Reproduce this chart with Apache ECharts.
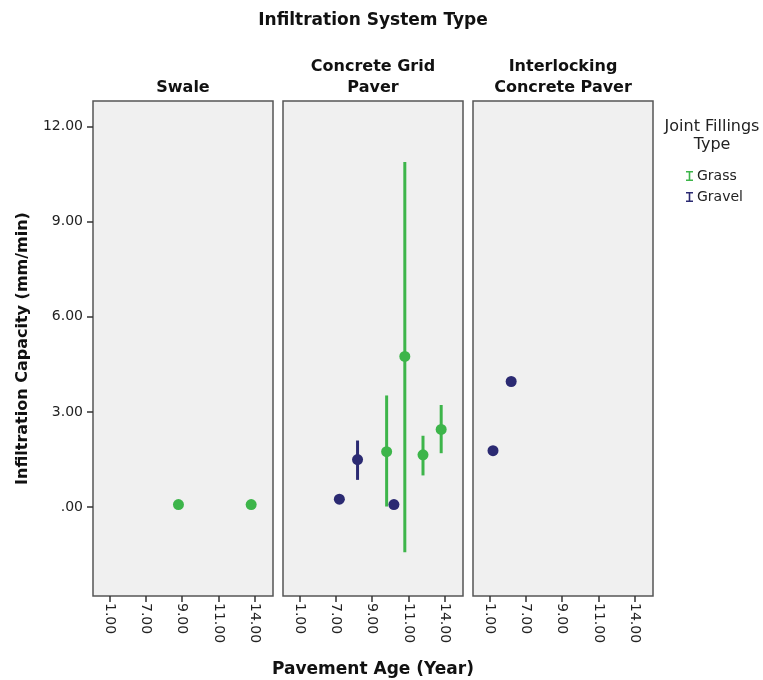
<!DOCTYPE html>
<html>
<head>
<meta charset="utf-8">
<script src="https://cdn.jsdelivr.net/npm/echarts@6/dist/echarts.min.js"></script>
<style>html,body{margin:0;padding:0;background:#fff}#c{width:763px;height:680px}</style>
</head>
<body>
<div id="c"></div>
<script>
// ---- data ----
const categories = ['1.00', '5.00', '7.00', '8.00', '9.00', '10.00', '11.00', '12.00', '14.00'];
const shownTickIdx = [0, 2, 4, 6, 8];
const yTicks = [0, 3, 6, 9, 12];
const panelTitles = ['Swale', 'Concrete Grid\nPaver', 'Interlocking\nConcrete Paver'];
const fillTypes = ['Grass', 'Gravel'];
// [age, mean, low, high]
const grassSwale = [['9.00', 0.08, null, null], ['14.00', 0.08, null, null]];
const gravelSwale = [];
const grassGrid = [['10.00', 1.75, 0.02, 3.52], ['11.00', 4.75, -1.42, 10.88], ['12.00', 1.65, 1.0, 2.25], ['14.00', 2.45, 1.7, 3.22]];
const gravelGrid = [['7.00', 0.25, null, null], ['8.00', 1.5, 0.86, 2.1], ['10.00', 0.08, null, null]];
const grassInter = [];
const gravelInter = [['1.00', 1.78, null, null], ['5.00', 3.96, null, null]];

const panelData = [[grassSwale, gravelSwale], [grassGrid, gravelGrid], [grassInter, gravelInter]];

// ---- style ----
const colors = ['#3db54a', '#2b2a72'];
const dodge = [-0.2, 0.2];
const FONT = 'DejaVu Sans';
const gridLefts = [93, 283, 473];
const gridW = 180, gridTop = 101, gridH = 495;

const chart = echarts.init(document.getElementById('c'), null, {renderer: 'canvas'});

const grids = [], xAxes = [], yAxes = [], series = [];
gridLefts.forEach((l, i) => {
  grids.push({left: l, top: gridTop, width: gridW, height: gridH, show: true,
    backgroundColor: '#f0f0f0', borderColor: '#555', borderWidth: 1.5,
    containLabel: false, outerBoundsMode: 'none'});
  xAxes.push({
    type: 'value', gridIndex: i, min: -0.9, max: 9.0, position: 'bottom',
    axisLine: {show: false, onZero: false},
    splitLine: {show: false},
    axisTick: {show: true, customValues: shownTickIdx, length: 6, lineStyle: {color: '#333', width: 1.5}},
    axisLabel: {customValues: shownTickIdx, rotate: -90, margin: 7, color: '#222',
      fontFamily: FONT, fontSize: 14, formatter: v => categories[Math.round(v)]},
    name: i === 1 ? 'Pavement Age (Year)' : '',
    nameLocation: 'middle', nameGap: 65,
    nameTextStyle: {fontFamily: FONT, fontWeight: 'bold', fontSize: 17, color: '#111'}
  });
  yAxes.push({
    type: 'value', gridIndex: i, min: -2.8, max: 12.8, position: 'left',
    axisLine: {show: false, onZero: false},
    splitLine: {show: false},
    axisTick: {show: i === 0, customValues: yTicks, length: 6, lineStyle: {color: '#333', width: 1.5}},
    axisLabel: {show: i === 0, customValues: yTicks, margin: 10, color: '#222',
      fontFamily: FONT, fontSize: 14, formatter: v => v === 0 ? '.00' : v.toFixed(2)},
    name: i === 0 ? 'Infiltration Capacity (mm/min)' : '',
    nameLocation: 'middle', nameGap: 62,
    nameTextStyle: {fontFamily: FONT, fontWeight: 'bold', fontSize: 16, color: '#111'}
  });

  panelData[i].forEach((arr, s) => {
    const pts = arr.map(d => [categories.indexOf(d[0]) + dodge[s], d[1], d[2], d[3]]);
    const bars = pts.filter(p => p[2] !== null);
    series.push({
      type: 'custom', name: fillTypes[s] + '_err', xAxisIndex: i, yAxisIndex: i,
      data: bars, z: 2,
      renderItem: (params, api) => {
        const a = api.coord([api.value(0), api.value(2)]);
        const b = api.coord([api.value(0), api.value(3)]);
        return {type: 'line', shape: {x1: a[0], y1: a[1], x2: b[0], y2: b[1]},
          style: {stroke: colors[s], lineWidth: 3}};
      },
      encode: {x: 0, y: [2, 3]}
    });
    series.push({
      type: 'scatter', name: fillTypes[s], xAxisIndex: i, yAxisIndex: i,
      data: pts.map(p => [p[0], p[1]]), symbolSize: 11, z: 3,
      itemStyle: {color: colors[s], opacity: 1}
    });
  });
});

const iBeam = 'path://M0,0H7V1.6H4.3V8.4H7V10H0V8.4H2.7V1.6H0Z';

const graphics = [
  {type: 'text', x: 373, y: 12, style: {text: 'Infiltration System Type', align: 'center',
    font: 'bold 17px "' + FONT + '"', fill: '#111'}},
  {type: 'text', x: 712, y: 118, style: {text: 'Joint Fillings\nType', align: 'center',
    font: '16px "' + FONT + '"', fill: '#222', lineHeight: 18}}
];
panelTitles.forEach((t, i) => {
  graphics.push({type: 'text', x: gridLefts[i] + gridW / 2, y: 98, style: {text: t, align: 'center',
    verticalAlign: 'bottom', font: 'bold 16px "' + FONT + '"', fill: '#111', lineHeight: 21}});
});

chart.setOption({
  animation: false,
  backgroundColor: '#fff',
  grid: grids, xAxis: xAxes, yAxis: yAxes, series: series,
  legend: {
    data: fillTypes.map((n, k) => ({name: n, icon: iBeam, itemStyle: {color: colors[k]}})),
    orient: 'vertical', left: 681, top: 164, itemWidth: 7, itemHeight: 11, itemGap: 7,
    textStyle: {fontFamily: FONT, fontSize: 14, color: '#222', padding: [0, 0, 0, -1]},
    selectedMode: false
  },
  graphic: graphics
});
</script>
</body>
</html>
